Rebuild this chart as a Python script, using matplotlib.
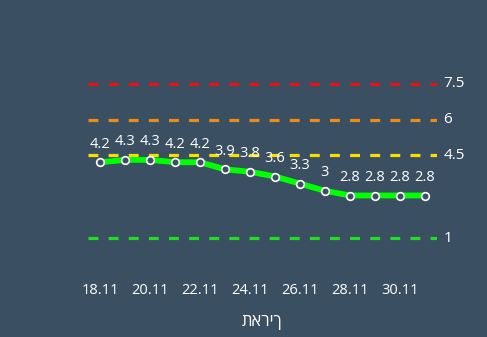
import matplotlib.pyplot as plt
import numpy as np

# Data
dates = ["18.11", "19.11", "20.11", "21.11", "22.11", "23.11", "24.11",
         "25.11", "26.11", "27.11", "28.11", "29.11", "30.11", "1.12"]
values = [4.2, 4.3, 4.3, 4.2, 4.2, 3.9, 3.8, 3.6, 3.3, 3, 2.8, 2.8, 2.8, 2.8]
thresholds = [7.5, 6, 4.5, 1]
threshold_colors = ["#e31414", "#ef8a17", "#f6e000", "#1fe01f"]

bg = "#3a4f61"
plt.rcParams['font.family'] = ['Open Sans', 'DejaVu Sans']

fig = plt.figure(figsize=(4.87, 3.37), dpi=100, facecolor=bg)
ax = fig.add_axes([88 / 487, 1 - 262 / 337, (437 - 88) / 487, (262 - 72) / 337])
ax.set_facecolor(bg)

x = np.arange(len(values))
for t, c in zip(thresholds, threshold_colors):
    ax.plot([-0.5, len(values) - 0.5], [t, t], color=c, lw=2.3,
            dashes=(3.1, 3.2), solid_capstyle='butt', dash_capstyle='butt')
    ax.text(len(values) - 0.5 + 0.25, t, str(t), color='white', fontsize=11,
            va='center', ha='left')

ax.plot(x, values, color='#00ff00', lw=4.2, solid_joinstyle='round',
        solid_capstyle='round', marker='o', markersize=5.5,
        markerfacecolor=bg, markeredgecolor='white', markeredgewidth=1.2,
        zorder=5)
for xi, v in zip(x, values):
    ax.annotate(f"{v:g}", (xi, v), xytext=(0, 13), textcoords='offset points',
                ha='center', va='center', color='white', fontsize=10.5)

ax.set_xlim(-0.5, len(values) - 0.5)
ax.set_ylim(0, 8)
ax.set_xticks(x[::2])
ax.set_xticklabels(dates[::2], color='white', fontsize=10.5)
ax.tick_params(axis='x', length=0, pad=15)
ax.set_yticks([])
ax.set_xlabel("תאריך", color='white', fontsize=12, labelpad=12)
for s in ax.spines.values():
    s.set_visible(False)

fig.savefig("out.png", dpi=100, facecolor=bg)
